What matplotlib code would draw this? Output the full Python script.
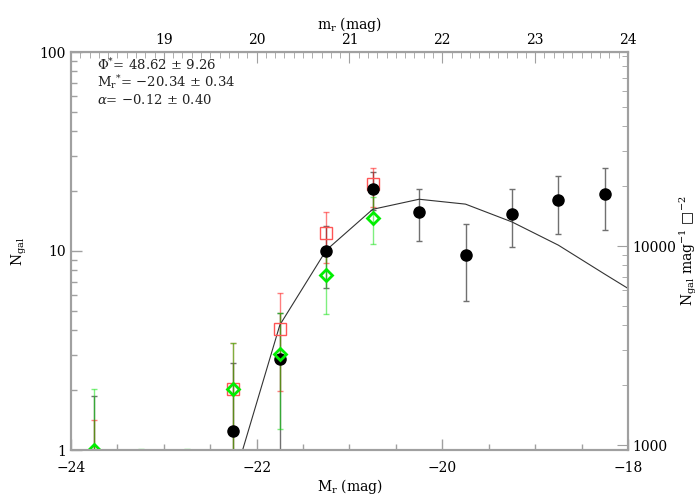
import numpy as np
import matplotlib
matplotlib.use('Agg')
import matplotlib.pyplot as plt
from matplotlib.ticker import MultipleLocator, LogLocator, NullFormatter, FuncFormatter, FixedLocator

plt.rcParams['font.family'] = ['DejaVu Serif']
plt.rcParams['mathtext.fontset'] = 'dejavuserif'

# total sample (black)
M_all = [-23.75, -22.25, -21.75, -21.25, -20.75, -20.25, -19.75, -19.25, -18.75, -18.25]
N_all = [0.85, 1.25, 2.87, 10.0, 20.5, 15.7, 9.5, 15.3, 18.0, 19.3]
N_all_hi = [1.87, 2.73, 4.88, 13.4, 24.9, 20.5, 13.6, 20.5, 23.8, 26.1]
N_all_lo = [0.5, 0.5, 0.8, 6.5, 16.0, 11.2, 5.6, 10.5, 12.2, 12.8]

# red squares
M_red = [-23.75, -22.25, -21.75, -21.25, -20.75]
N_red = [0.7, 2.02, 4.05, 12.3, 21.7]
N_red_hi = [1.41, 3.45, 6.15, 15.7, 26.1]
N_red_lo = [0.3, 0.9, 1.98, 8.7, 16.7]

# green diamonds (empty bins have only an upper limit of 1)
M_grn = [-23.75, -23.25, -22.75, -22.25, -21.75, -21.25, -20.75]
N_grn = [1.0, 0.01, 0.01, 2.02, 3.04, 7.58, 14.6]
N_grn_hi = [2.03, 1.01, 1.01, 3.45, 4.88, 10.4, 18.7]
N_grn_lo = [0.3, 0.005, 0.005, 0.5, 1.27, 4.8, 10.8]

# Schechter fit
M_fit = [-22.25, -21.75, -21.25, -20.75, -20.25, -19.75, -19.25, -18.75, -18.25, -17.75]
N_fit = [0.70, 4.25, 10.1, 16.2, 18.2, 17.2, 14.0, 10.7, 7.65, 5.5]

top_ticks = [19, 20, 21, 22, 23, 24]

fit_text = [r'$\Phi^{*}$= 48.62 $\pm$ 9.26',
            r'M$_{\rm r}$$^{*}$= $-$20.34 $\pm$ 0.34',
            r'$\alpha$= $-$0.12 $\pm$ 0.40']

def yerr(n, lo, hi):
    n = np.array(n); return [n - np.array(lo), np.array(hi) - n]

fig = plt.figure(figsize=(7, 5), dpi=100)
ax = fig.add_axes([0.1014, 0.1, 0.7957, 0.796])
ax.set_yscale('log')

gray = '#a0a0a0'
ax.errorbar(M_all, N_all, yerr=yerr(N_all, N_all_lo, N_all_hi), fmt='none',
            ecolor='#707070', elinewidth=1, capsize=2.5, zorder=2)
ax.errorbar(M_red, N_red, yerr=yerr(N_red, N_red_lo, N_red_hi), fmt='none',
            ecolor='#ff0000', alpha=0.5, elinewidth=1, capsize=2.5, zorder=3)
ax.errorbar(M_grn, N_grn, yerr=yerr(N_grn, N_grn_lo, N_grn_hi), fmt='none',
            ecolor='#00e000', alpha=0.5, elinewidth=1, capsize=2.5, zorder=4)
ax.plot(M_fit, N_fit, color='#333333', lw=0.8, zorder=5)
ax.plot(M_red, N_red, 's', ms=8, mfc='none', mec='#ff5555', mew=1, zorder=6)
ax.plot(M_all, N_all, 'o', ms=8, color='black', zorder=7)
ax.plot(M_grn, N_grn, 'D', ms=6.5, mfc='none', mec='#00ee00', mew=2, zorder=8)

ax.set_xlim(-24, -18)
ax.set_ylim(1, 100)
ax.xaxis.set_major_locator(MultipleLocator(2))
ax.xaxis.set_minor_locator(MultipleLocator(0.5))
ax.yaxis.set_major_locator(LogLocator(base=10))
ax.yaxis.set_minor_locator(LogLocator(base=10, subs=np.arange(2, 10)))
ax.yaxis.set_major_formatter(FuncFormatter(lambda v, p: '%g' % v))
ax.yaxis.set_minor_formatter(NullFormatter())
ax.tick_params(which='both', direction='in', color=gray, labelsize=10, right=False, top=False)
ax.tick_params(which='major', length=8, width=1)
ax.tick_params(which='minor', length=4, width=1)
ax.tick_params(axis='x', which='both', pad=8)
ax.set_xlabel(r'M$_{\rm r}$ (mag)', fontsize=10, labelpad=1)
ax.set_ylabel(r'N$_{\rm gal}$', fontsize=10, labelpad=8)
for s in ax.spines.values():
    s.set_color(gray); s.set_linewidth(1.5)

top = ax.secondary_xaxis('top', functions=(lambda x: x + 42, lambda x: x - 42))
top.xaxis.set_major_locator(FixedLocator(top_ticks))
top.xaxis.set_minor_locator(MultipleLocator(0.1))
top.tick_params(which='both', direction='in', color=gray, labelsize=10)
top.tick_params(which='major', length=8)
top.tick_params(which='minor', length=4)
top.set_xlabel(r'm$_{\rm r}$ (mag)', fontsize=10, labelpad=3)
top.spines['top'].set_color(gray)

ax2 = ax.twinx()
ax2.set_yscale('log')
ax2.set_ylim(944, 94400)
ax2.yaxis.set_major_locator(FixedLocator([1000, 10000]))
ax2.yaxis.set_minor_locator(LogLocator(base=10, subs=np.arange(2, 10)))
ax2.yaxis.set_major_formatter(FuncFormatter(lambda v, p: '%g' % v))
ax2.yaxis.set_minor_formatter(NullFormatter())
ax2.tick_params(which='both', direction='in', color=gray, labelsize=10, pad=3)
ax2.tick_params(which='major', length=8)
ax2.tick_params(which='minor', length=4)
ax2.set_ylabel(r'N$_{\rm gal}$ mag$^{-1}$ □$^{-2}$', fontsize=10, rotation=90, labelpad=1)
for s in ax2.spines.values():
    s.set_color(gray); s.set_linewidth(1.5)

for i, t in enumerate(fit_text):
    ax.text(0.047, 0.968 - i * 0.044, t, transform=ax.transAxes, fontsize=9.5,
            va='center', ha='left', color='#222222')

fig.savefig('out.png', dpi=100)
